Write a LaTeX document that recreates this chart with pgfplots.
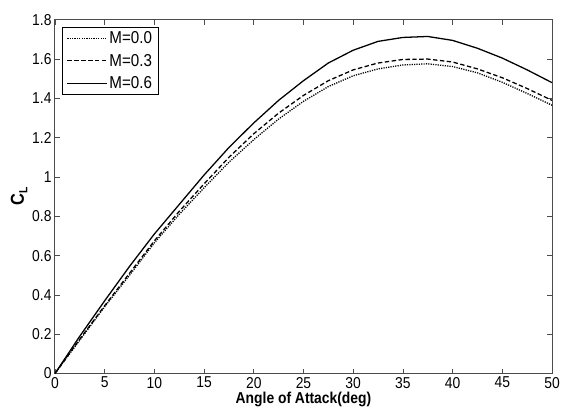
\documentclass[border=0pt]{standalone}
\usepackage{fontspec}
\setmainfont{Liberation Sans}[FakeStretch=0.88]
\usepackage{pgfplots}
\pgfplotsset{compat=1.18}
\begin{document}
\begin{tikzpicture}
\begin{axis}[
  scale only axis,
  width=503bp, height=358bp,
  xmin=0, xmax=50, ymin=0, ymax=1.8,
  xtick={0,5,...,50},
  ytick={0,0.2,0.4,0.6,0.8,1,1.2,1.4,1.6,1.8},
  tick align=inside,
  major tick length=5bp,
  axis line style={draw=black!70, line width=0.9bp},
  every tick/.style={black!70, line width=0.7bp},
  /pgf/number format/assume math mode=true,
  tick label style={font=\fontsize{16}{18}\selectfont},
  xlabel={\textbf{Angle of Attack(deg)}},
  ylabel={\textbf{C}\raisebox{-0.35ex}{\fontsize{12}{12}\selectfont\textbf{L}}},
  xlabel style={font=\fontsize{16}{18}\selectfont, yshift=3bp},
  ylabel style={font=\fontsize{19}{20}\selectfont, yshift=-2bp},
  legend style={at={(rel axis cs:0.015,0.98)}, anchor=north west,
    font=\fontsize{17.5}{20}\selectfont, draw=black, line width=0.7bp,
    inner xsep=4bp, inner ysep=2.5bp, row sep=5bp},
  legend cell align=left,
  legend image code/.code={\draw[#1] (0bp,0bp) -- (40bp,0bp);},
]
\addplot[black, line width=1.3bp, dotted, dash pattern=on 1.2bp off 1.2bp] coordinates {
(0,0) (2.5,0.17) (5,0.34) (7.5,0.50) (10,0.665) (12.5,0.81) (15,0.945) (17.5,1.075) (20,1.19) (22.5,1.295) (25,1.385) (27.5,1.46) (30,1.515) (32.5,1.55) (35,1.57) (37.5,1.576) (40,1.562) (42.5,1.53) (45,1.482) (47.5,1.425) (50,1.365)};
\addlegendentry{M=0.0}
\addplot[black, line width=1.3bp, dash pattern=on 4.5bp off 2.5bp] coordinates {
(0,0) (2.5,0.175) (5,0.345) (7.5,0.51) (10,0.675) (12.5,0.825) (15,0.965) (17.5,1.10) (20,1.22) (22.5,1.325) (25,1.415) (27.5,1.49) (30,1.545) (32.5,1.58) (35,1.598) (37.5,1.60) (40,1.585) (42.5,1.55) (45,1.505) (47.5,1.45) (50,1.39)};
\addlegendentry{M=0.3}
\addplot[black, line width=1.3bp] coordinates {
(0,0) (2.5,0.19) (5,0.37) (7.5,0.545) (10,0.71) (12.5,0.86) (15,1.01) (17.5,1.15) (20,1.275) (22.5,1.39) (25,1.49) (27.5,1.58) (30,1.645) (32.5,1.69) (35,1.71) (37.5,1.715) (40,1.695) (42.5,1.655) (45,1.605) (47.5,1.545) (50,1.48)};
\addlegendentry{M=0.6}
\end{axis}
\path (current axis.south west) ++(-55.6bp,-39bp) rectangle ([shift={(4bp,20bp)}]current axis.north east);
\end{tikzpicture}
\end{document}
